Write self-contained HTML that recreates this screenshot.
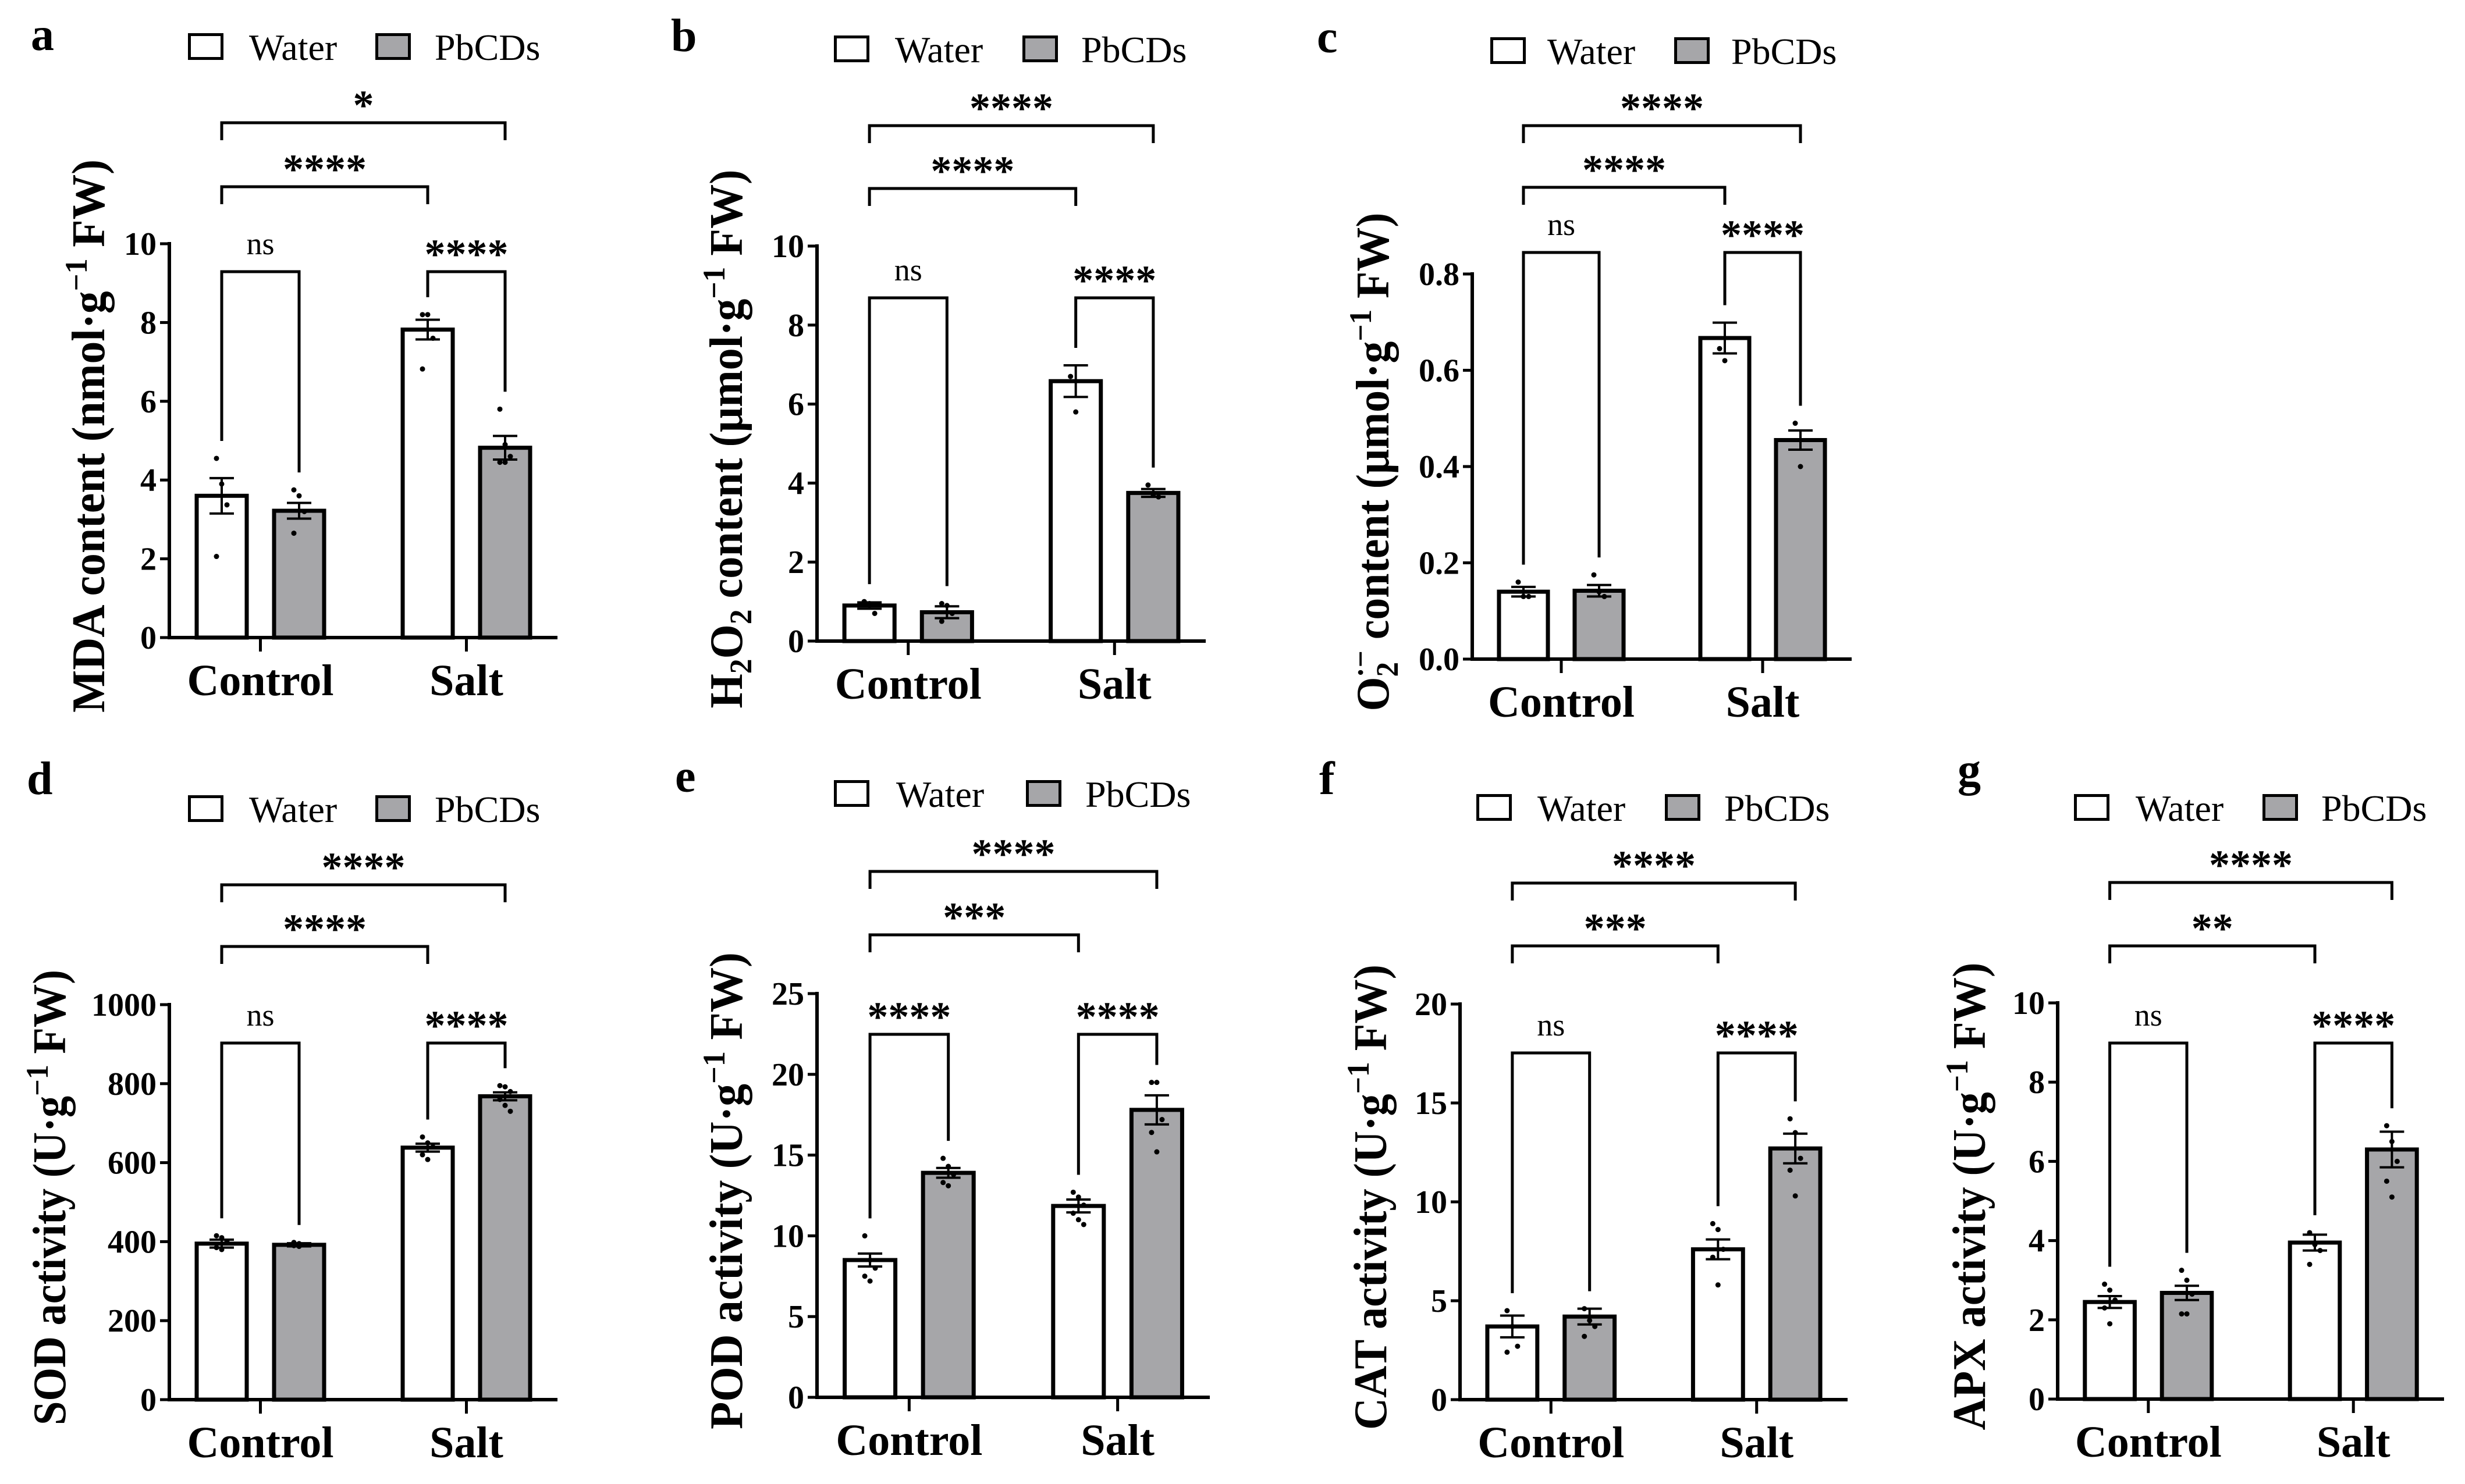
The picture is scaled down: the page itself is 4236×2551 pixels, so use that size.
<!DOCTYPE html>
<html><head><meta charset="utf-8"><title>Antioxidant panels</title>
<style>
html,body{margin:0;padding:0;background:#fff;}
svg, svg text, svg tspan{font-family:"Liberation Serif","DejaVu Serif",serif;}
</style></head>
<body>
<svg id="fig" width="4236" height="2546" viewBox="0 0 4236 2546" xmlns="http://www.w3.org/2000/svg" font-family="Liberation Serif, DejaVu Serif, serif"></svg>
<script>
// ---- data (mean, sem, replicate points) order: Control-Water, Control-PbCDs, Salt-Water, Salt-PbCDs
const categories = ["Control", "Salt"];
const seriesNames = ["Water", "PbCDs"];
const mdaMeans = [3.6, 3.22, 7.82, 4.82];
const mdaErr = [0.45, 0.2, 0.25, 0.3];
const mdaPts = [[4.55, 3.9, 3.37, 2.06], [3.75, 3.6, 3.2, 2.65], [8.2, 8.2, 7.6, 6.82], [5.8, 4.9, 4.6, 4.45, 4.45]];
const h2o2Means = [0.9, 0.73, 6.58, 3.75];
const h2o2Err = [0.08, 0.15, 0.4, 0.1];
const h2o2Pts = [[1.0, 0.95, 0.7], [0.95, 0.9, 0.7, 0.5], [6.7, 5.8], [3.95, 3.7, 3.65]];
const o2Means = [0.14, 0.142, 0.667, 0.455];
const o2Err = [0.01, 0.012, 0.032, 0.02];
const o2Pts = [[0.16, 0.13, 0.13], [0.175, 0.14, 0.13], [0.645, 0.62], [0.49, 0.4]];
const sodMeans = [395, 392, 638, 768];
const sodErr = [10, 4, 10, 10];
const sodPts = [[415, 410, 400, 385, 380], [398, 395, 392, 390, 388], [665, 650, 640, 620, 608], [795, 792, 780, 760, 745, 730]];
const podMeans = [8.5, 13.9, 11.85, 17.8];
const podErr = [0.4, 0.3, 0.4, 0.9];
const podPts = [[10, 8.5, 8.0, 7.5, 7.2], [14.8, 14.3, 13.8, 13.3, 13.1], [12.7, 12.4, 11.9, 11.4, 11.0, 10.7], [19.5, 19.5, 17.2, 16.4, 15.2]];
const catMeans = [3.7, 4.2, 7.6, 12.7];
const catErr = [0.55, 0.4, 0.5, 0.75];
const catPts = [[4.5, 3.7, 2.7, 2.4], [4.6, 4.0, 3.7, 3.2], [8.9, 8.6, 7.6, 7.2, 5.8], [14.2, 13.5, 12.2, 11.6, 10.3]];
const apxMeans = [2.45, 2.68, 3.95, 6.3];
const apxErr = [0.15, 0.18, 0.2, 0.45];
const apxPts = [[2.9, 2.75, 2.5, 2.3, 1.9], [3.25, 3.0, 2.65, 2.15, 2.15], [4.2, 3.9, 3.75, 3.4], [6.9, 6.5, 6.0, 5.5, 5.1]];
const ticks10 = [0, 2, 4, 6, 8, 10];
const ticksO2 = [0, 0.2, 0.4, 0.6, 0.8];
const ticksO2Labels = ["0.0", "0.2", "0.4", "0.6", "0.8"];
const ticksSOD = [0, 200, 400, 600, 800, 1000];
const ticksPOD = [0, 5, 10, 15, 20, 25];
const ticksCAT = [0, 5, 10, 15, 20];
const sigA = ["*", "****", "ns", "****"];
const sigB = ["****", "****", "ns", "****"];
const sigE = ["****", "***", "****", "****"];
const sigF = ["****", "***", "ns", "****"];
const sigG = ["****", "**", "ns", "****"];

const NS = "http://www.w3.org/2000/svg";
const svg = document.getElementById("fig");
const FONT = "Liberation Serif, DejaVu Serif, serif";
function mk(tag, attrs, parent){
  const e = document.createElementNS(NS, tag);
  for (const k in attrs) e.setAttribute(k, attrs[k]);
  if (tag === "text") e.setAttribute("font-family", FONT);
  (parent||svg).appendChild(e);
  return e;
}
const GRAY = "#a6a6a9";

const panels = [
 {id:"a", letter:[53,86], ax:291, yTop:419, y0:1096, xEnd:958, max:10, ticks:ticks10, tl:null, means:mdaMeans, err:mdaErr, pts:mdaPts, sig:sigA,
  br:[211,321,467,467], leg:[323,57,428,645,747], tx:179, tlen:951,
  title:[["MDA content (nmol·g",0],["−1",1],[" FW)",0]]},
 {id:"b", letter:[1153,88], ax:1404, yTop:423, y0:1102, xEnd:2072, max:10, ticks:ticks10, tl:null, means:h2o2Means, err:h2o2Err, pts:h2o2Pts, sig:sigB,
  br:[216,324,512,512], leg:[1433,61,1538,1757,1858], tx:1275, tlen:926,
  title:[["H",0],["2",-1],["O",0],["2",-1],[" content (μmol·g",0],["−1",1],[" FW)",0]]},
 {id:"c", letter:[2263,90], ax:2530, yTop:471, y0:1133, xEnd:3182, max:0.8, ticks:ticksO2, tl:ticksO2Labels, means:o2Means, err:o2Err, pts:o2Pts, sig:sigB,
  br:[216,322,434,434], leg:[2561,64,2659,2877,2975], tx:2386, tlen:857,
  title:[["O",0],["2",-1],["·−",1],[" content (μmol·g",0],["−1",1],[" FW)",0]]},
 {id:"d", letter:[46,1365], ax:291, yTop:1727, y0:2406, xEnd:958, max:1000, ticks:ticksSOD, tl:null, means:sodMeans, err:sodErr, pts:sodPts, sig:sigB,
  br:[1521,1627,1793,1793], leg:[323,1367,428,645,747], tx:112, tlen:783,
  title:[["SOD activity (U·g",0],["−1",1],[" FW)",0]]},
 {id:"e", letter:[1160,1361], ax:1404, yTop:1708, y0:2402, xEnd:2079, max:25, ticks:ticksPOD, tl:null, means:podMeans, err:podErr, pts:podPts, sig:sigE,
  br:[1498,1607,1778,1778], leg:[1433,1341,1540,1763,1865], tx:1275, tlen:820,
  title:[["POD activity (U·g",0],["−1",1],[" FW)",0]]},
 {id:"f", letter:[2267,1365], ax:2509, yTop:1726, y0:2406, xEnd:3175, max:20, ticks:ticksCAT, tl:null, means:catMeans, err:catErr, pts:catPts, sig:sigF,
  br:[1518,1626,1810,1810], leg:[2537,1365,2642,2861,2963], tx:2382, tlen:800,
  title:[["CAT activity (U·g",0],["−1",1],[" FW)",0]]},
 {id:"g", letter:[3364,1350], ax:3536, yTop:1724, y0:2405, xEnd:4200, max:10, ticks:ticks10, tl:null, means:apxMeans, err:apxErr, pts:apxPts, sig:sigG,
  br:[1517,1626,1793,1793], leg:[3564,1365,3670,3888,3989], tx:3411, tlen:804,
  title:[["APX activity (U·g",0],["−1",1],[" FW)",0]]}
];

const barOff = [47, 180, 401, 534], barW = 86;

panels.forEach(p => {
  const g = mk("g", {});
  
  
  const k = (p.xEnd - p.ax) / 667;
  const yS = v => p.y0 - (v / p.max) * (p.y0 - p.yTop);
  const xL = i => p.ax + barOff[i] * k;
  const xC = i => xL(i) + barW * k / 2;

  const lt = mk("text", {x:p.letter[0], y:p.letter[1], "font-size":80, "font-weight":"bold"}, g);
  lt.textContent = p.id;
  
  

  const L = p.leg;
  [[L[0], L[2], "#fff", seriesNames[0]], [L[3], L[4], GRAY, seriesNames[1]]].forEach((e, i) => {
    const lg = mk("g", {}, g);
    
    
    mk("rect", {x:e[0]+2.5, y:L[1]+2.5, width:56, height:41, fill:e[2], stroke:"#000", "stroke-width":5}, lg);
    const t = mk("text", {x:e[1], y:L[1]+46, "font-size":64}, lg);
    t.textContent = e[3];
  });

  for (let i = 0; i < 4; i++) {
    const bg = mk("g", {}, g);
    
    
    const top = yS(p.means[i]);
    mk("rect", {x:xL(i), y:top, width:barW*k, height:p.y0-top, fill:(i%2 ? GRAY : "#fff"), stroke:"#000", "stroke-width":7}, bg);
    const cx = xC(i), hi = yS(p.means[i] + p.err[i]), lo = yS(p.means[i] - p.err[i]);
    mk("path", {d:`M${cx} ${hi}V${lo}M${cx-21} ${hi}H${cx+21}M${cx-21} ${lo}H${cx+21}`, stroke:"#000", "stroke-width":4, fill:"none"}, bg);
    p.pts[i].forEach((v, j) => {
      const dx = (j % 3 - 1) * 9;
      mk("circle", {cx:cx + dx, cy:yS(v), r:4.5, fill:"#000"}, bg);
    });
  }

  const ax = mk("g", {}, g);
  
  
  mk("line", {x1:p.ax, y1:p.yTop-3, x2:p.ax, y2:p.y0, stroke:"#000", "stroke-width":6}, ax);
  p.ticks.forEach((v, i) => {
    const y = yS(v);
    mk("line", {x1:p.ax-16, y1:y, x2:p.ax, y2:y, stroke:"#000", "stroke-width":5}, ax);
    const t = mk("text", {x:p.ax-22, y:y+19, "font-size":56, "font-weight":"bold", "text-anchor":"end"}, ax);
    t.textContent = p.tl ? p.tl[i] : String(v);
  });
  const xa = mk("g", {}, g);
  
  
  mk("line", {x1:p.ax-3, y1:p.y0, x2:p.xEnd, y2:p.y0, stroke:"#000", "stroke-width":6}, xa);
  [0, 1].forEach(c => {
    const cx = (xL(2*c) + xL(2*c+1) + barW*k) / 2;
    mk("line", {x1:cx, y1:p.y0, x2:cx, y2:p.y0+24, stroke:"#000", "stroke-width":5}, xa);
    const t = mk("text", {x:cx, y:p.y0+99, "font-size":76, "font-weight":"bold", "text-anchor":"middle"}, xa);
    t.textContent = categories[c];
  });

  const cy = (p.yTop + p.y0) / 2 - 8;
  const tt = mk("text", {x:0, y:0, "font-size":80, "font-weight":"bold", "text-anchor":"middle",
    transform:`translate(${p.tx},${cy}) rotate(-90)`, textLength:p.tlen, lengthAdjust:"spacingAndGlyphs"}, g);
  
  
  let cur = 0;
  p.title.forEach((seg, si) => {
    const ts = mk("tspan", {}, tt);
    let target = 0;
    if (seg[1] === 1) target = -30;
    if (seg[1] === -1) target = 16;
    // superscript directly after subscript (O2·−) stacks above
    if (seg[1] === 1 && si > 0 && p.title[si-1][1] === -1) ts.setAttribute("dx", -28);
    ts.setAttribute("dy", target - cur);
    cur = target;
    if (seg[1] !== 0) ts.setAttribute("font-size", 54);
    ts.textContent = seg[0];
  });

  const topOf = i => Math.min(yS(Math.max(...p.pts[i])), yS(p.means[i] + p.err[i]));
  const defs = [[0, 3, p.br[0], true], [0, 2, p.br[1], true], [0, 1, p.br[2], false], [2, 3, p.br[3], false]];
  defs.forEach((d, bi) => {
    const bgp = mk("g", {}, g);
    
    
    const x1 = xC(d[0]), x2 = xC(d[1]), y = d[2];
    const e1 = d[3] ? y + 30 : topOf(d[0]) - 30;
    const e2 = d[3] ? y + 30 : topOf(d[1]) - 30;
    mk("path", {d:`M${x1} ${e1}V${y}H${x2}V${e2}`, stroke:"#000", "stroke-width":5, fill:"none"}, bgp);
    const lab = p.sig[bi];
    const t = mk("text", {x:(x1+x2)/2, "text-anchor":"middle"}, bgp);
    if (lab === "ns") { t.setAttribute("y", y - 30); t.setAttribute("font-size", 54); }
    else { t.setAttribute("y", y - 6); t.setAttribute("font-size", 72); t.setAttribute("font-weight", "bold"); }
    t.textContent = lab;
  });
});
</script>
</body></html>
